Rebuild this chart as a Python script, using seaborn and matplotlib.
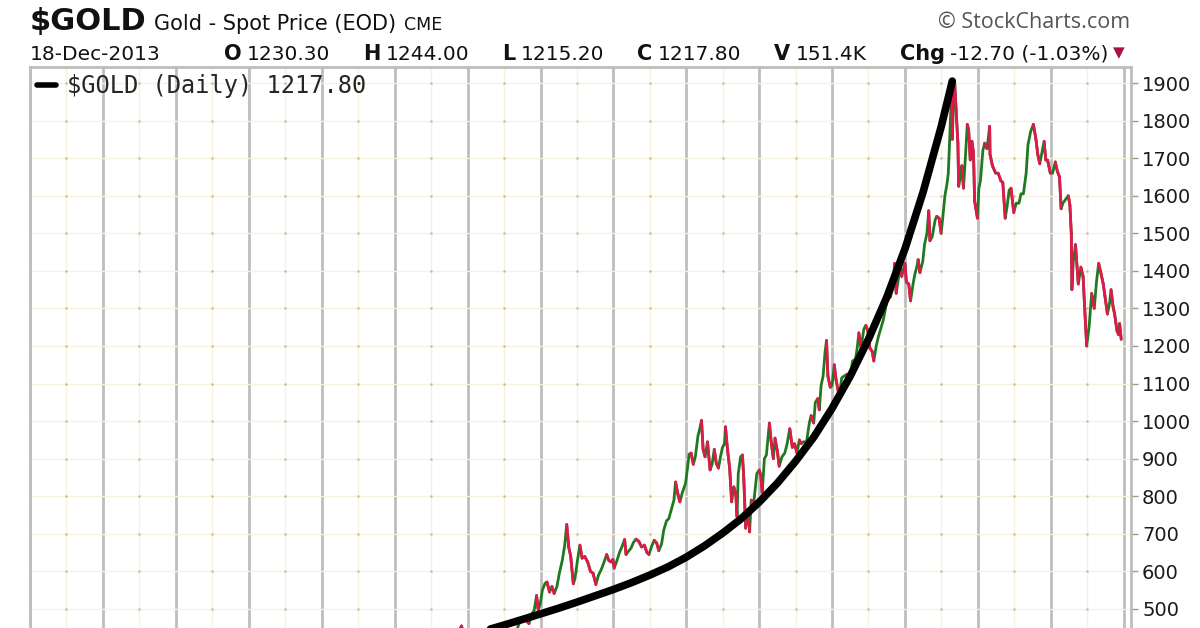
import matplotlib
matplotlib.use("Agg")
import matplotlib.pyplot as plt
import matplotlib.dates as mdates
from matplotlib.collections import LineCollection
from matplotlib.lines import Line2D
import numpy as np
import pandas as pd
import seaborn as sns

# gold spot, daily chart (a few points per month)
gold_dates = [
    "2004-09-01", "2004-09-15", "2004-10-01", "2004-10-15", "2004-11-01", "2004-11-15",
    "2004-12-01", "2004-12-10", "2004-12-20", "2004-12-31",
    "2005-01-10", "2005-01-25", "2005-02-08", "2005-02-22", "2005-03-10", "2005-03-25",
    "2005-04-08", "2005-04-20", "2005-05-05", "2005-05-20", "2005-06-06", "2005-06-24",
    "2005-07-08", "2005-07-22", "2005-08-08", "2005-08-22", "2005-09-06", "2005-09-20",
    "2005-10-05", "2005-10-20", "2005-11-04", "2005-11-18", "2005-11-30", "2005-12-12",
    "2005-12-20", "2005-12-30",
    "2006-01-10", "2006-01-23", "2006-02-02", "2006-02-15", "2006-02-27", "2006-03-10",
    "2006-03-24", "2006-04-05", "2006-04-20", "2006-05-02", "2006-05-12", "2006-05-22",
    "2006-06-01", "2006-06-14", "2006-06-22", "2006-07-05", "2006-07-17", "2006-07-28",
    "2006-08-10", "2006-08-25", "2006-09-08", "2006-09-21", "2006-10-05", "2006-10-18",
    "2006-11-01", "2006-11-15", "2006-11-28", "2006-12-08", "2006-12-20", "2006-12-29",
    "2007-01-05", "2007-01-18", "2007-01-31", "2007-02-12", "2007-02-26", "2007-03-05",
    "2007-03-16", "2007-03-30", "2007-04-12", "2007-04-24", "2007-05-08", "2007-05-22",
    "2007-06-05", "2007-06-18", "2007-06-28", "2007-07-10", "2007-07-24", "2007-08-06",
    "2007-08-16", "2007-08-30", "2007-09-10", "2007-09-24", "2007-10-05", "2007-10-18",
    "2007-10-31", "2007-11-08", "2007-11-20", "2007-11-30", "2007-12-12", "2007-12-28",
    "2008-01-08", "2008-01-15", "2008-01-25", "2008-02-05", "2008-02-15", "2008-02-28",
    "2008-03-06", "2008-03-17", "2008-03-25", "2008-04-04", "2008-04-16", "2008-04-29",
    "2008-05-09", "2008-05-20", "2008-05-30", "2008-06-10", "2008-06-20", "2008-06-30",
    "2008-07-10", "2008-07-15", "2008-07-25", "2008-08-05", "2008-08-15", "2008-08-26",
    "2008-09-05", "2008-09-11", "2008-09-17", "2008-09-29", "2008-10-08", "2008-10-15",
    "2008-10-24", "2008-11-05", "2008-11-13", "2008-11-21", "2008-12-02", "2008-12-10",
    "2008-12-19", "2008-12-31",
    "2009-01-08", "2009-01-15", "2009-01-26", "2009-02-05", "2009-02-20", "2009-03-02",
    "2009-03-12", "2009-03-20", "2009-04-01", "2009-04-10", "2009-04-24", "2009-05-08",
    "2009-05-20", "2009-06-02", "2009-06-15", "2009-06-26", "2009-07-08", "2009-07-20",
    "2009-07-30", "2009-08-10", "2009-08-25", "2009-09-08", "2009-09-17", "2009-09-30",
    "2009-10-08", "2009-10-20", "2009-10-28", "2009-11-06", "2009-11-16", "2009-11-26",
    "2009-12-03", "2009-12-10", "2009-12-22", "2009-12-31",
    "2010-01-11", "2010-01-20", "2010-02-05", "2010-02-17", "2010-03-01", "2010-03-16",
    "2010-03-30", "2010-04-12", "2010-04-27", "2010-05-06", "2010-05-14", "2010-05-25",
    "2010-06-08", "2010-06-18", "2010-06-28", "2010-07-08", "2010-07-20", "2010-07-28",
    "2010-08-09", "2010-08-20", "2010-08-31", "2010-09-14", "2010-09-28", "2010-10-06",
    "2010-10-19", "2010-11-01", "2010-11-09", "2010-11-17", "2010-11-30", "2010-12-07",
    "2010-12-15", "2010-12-31",
    "2011-01-07", "2011-01-19", "2011-01-28", "2011-02-08", "2011-02-18", "2011-02-28",
    "2011-03-07", "2011-03-16", "2011-03-30", "2011-04-08", "2011-04-20", "2011-04-29",
    "2011-05-05", "2011-05-16", "2011-05-31", "2011-06-08", "2011-06-20", "2011-06-30",
    "2011-07-08", "2011-07-19", "2011-07-29", "2011-08-05", "2011-08-12", "2011-08-22",
    "2011-08-25", "2011-09-02", "2011-09-06", "2011-09-13", "2011-09-22", "2011-09-26",
    "2011-10-04", "2011-10-12", "2011-10-20", "2011-10-31", "2011-11-08", "2011-11-15",
    "2011-11-23", "2011-12-01", "2011-12-09", "2011-12-15", "2011-12-29",
    "2012-01-05", "2012-01-13", "2012-01-25", "2012-02-03", "2012-02-15", "2012-02-28",
    "2012-03-01", "2012-03-13", "2012-03-29", "2012-04-11", "2012-04-24", "2012-05-04",
    "2012-05-16", "2012-05-25", "2012-06-05", "2012-06-14", "2012-06-28", "2012-07-10",
    "2012-07-24", "2012-08-03", "2012-08-15", "2012-08-29", "2012-09-07", "2012-09-20",
    "2012-10-04", "2012-10-17", "2012-10-26", "2012-11-05", "2012-11-16", "2012-11-27",
    "2012-12-05", "2012-12-14", "2012-12-28",
    "2013-01-08", "2013-01-22", "2013-02-01", "2013-02-12", "2013-02-20", "2013-03-01",
    "2013-03-14", "2013-03-28", "2013-04-05", "2013-04-12", "2013-04-15", "2013-04-22",
    "2013-05-03", "2013-05-17", "2013-05-30", "2013-06-10", "2013-06-20", "2013-06-28",
    "2013-07-10", "2013-07-23", "2013-08-05", "2013-08-16", "2013-08-27", "2013-09-09",
    "2013-09-19", "2013-09-27", "2013-10-10", "2013-10-21", "2013-10-28", "2013-11-07",
    "2013-11-15", "2013-11-27", "2013-12-05", "2013-12-10", "2013-12-18",
]
gold_close = [
    408, 405, 418, 420, 428, 440,
    455, 437, 442, 438,
    420, 425, 413, 435, 444, 427,
    425, 437, 429, 418, 426, 440,
    424, 425, 437, 439, 446, 470,
    473, 470, 461, 487, 496, 536,
    498, 513,
    550, 568, 572, 545, 560, 541,
    560, 595, 630, 670, 725, 665,
    640, 567, 580, 630, 670, 635,
    640, 625, 600, 595, 565, 590,
    605, 625, 645, 630, 625, 632,
    609, 628, 650, 665, 685, 645,
    653, 662, 678, 686, 680, 665,
    670, 650, 645, 665, 683, 675,
    655, 673, 710, 735, 740, 765,
    790, 838, 805, 785, 810, 834,
    880, 912, 915, 885, 905, 960,
    975, 1002, 925, 905, 945, 870,
    885, 925, 888, 875, 905, 930,
    940, 985, 925, 875, 785, 825,
    805, 745, 860, 905, 910, 845,
    715, 760, 705, 790, 775, 815,
    860, 870,
    855, 810, 900, 910, 995, 940,
    900, 955, 920, 880, 905, 915,
    940, 980, 930, 940, 915, 950,
    940, 945, 945, 995, 1015, 995,
    1050, 1060, 1030, 1095, 1120, 1185,
    1215, 1120, 1090, 1095,
    1150, 1110, 1065, 1115, 1120, 1125,
    1110, 1160, 1165, 1195, 1235, 1195,
    1245, 1255, 1240, 1195, 1185, 1160,
    1200, 1225, 1245, 1270, 1310, 1345,
    1330, 1355, 1420, 1340, 1385, 1420,
    1385, 1420,
    1370, 1365, 1320, 1360, 1390, 1410,
    1430, 1395, 1425, 1470, 1500, 1560,
    1480, 1490, 1535, 1545, 1540, 1500,
    1540, 1600, 1630, 1660, 1750, 1890,
    1750, 1880, 1900, 1830, 1740, 1625,
    1650, 1680, 1620, 1715, 1790, 1775,
    1695, 1745, 1715, 1585, 1540,
    1620, 1640, 1720, 1740, 1725, 1785,
    1710, 1680, 1660, 1660, 1640, 1635,
    1540, 1570, 1615, 1620, 1555, 1580,
    1580, 1605, 1605, 1660, 1735, 1770,
    1790, 1750, 1710, 1685, 1715, 1745,
    1695, 1695, 1660,
    1660, 1690, 1665, 1650, 1565, 1580,
    1590, 1600, 1575, 1500, 1350, 1425,
    1470, 1365, 1410, 1385, 1280, 1200,
    1250, 1340, 1300, 1370, 1420, 1390,
    1365, 1335, 1285, 1315, 1350, 1305,
    1285, 1240, 1230, 1260, 1217.8,
]

# hand drawn black curve, read quarter by quarter
trend_dates = [
    "2005-01-01", "2005-04-01", "2005-07-01", "2005-10-01",
    "2006-01-01", "2006-04-01", "2006-07-01", "2006-10-01",
    "2007-01-01", "2007-04-01", "2007-07-01", "2007-10-01",
    "2008-01-01", "2008-04-01", "2008-07-01", "2008-10-01",
    "2009-01-01", "2009-04-01", "2009-07-01", "2009-10-01",
    "2010-01-01", "2010-04-01", "2010-07-01", "2010-10-01",
    "2011-01-01", "2011-04-01", "2011-07-01", "2011-08-25",
]
trend_values = [
    430, 443, 457, 472,
    487, 502, 518, 535,
    552, 570, 590, 612,
    638, 668, 702, 740,
    785, 835, 893, 958,
    1035, 1120, 1218, 1330,
    1460, 1610, 1785, 1905,
]

price_ticks = [500, 600, 700, 800, 900, 1000, 1100, 1200, 1300,
               1400, 1500, 1600, 1700, 1800, 1900]

RED = "#e5164b"
GREEN = "#1f7a1f"
GRID = "#bdbdbd"
FAINT = "#f6f2dc"

sns.set_style("white")
plt.rcParams["font.family"] = ["DejaVu Sans"]

fig = plt.figure(figsize=(12, 6.28), dpi=100)
ax = fig.add_axes([30 / 1200, 0, 1101 / 1200, 561 / 628])

df = pd.DataFrame({"date": pd.to_datetime(gold_dates), "close": gold_close})
trend = pd.DataFrame({"date": pd.to_datetime(trend_dates), "value": trend_values})

# price line, green base then falling legs in red
sns.lineplot(data=df, x="date", y="close", color=GREEN, lw=2, ax=ax, zorder=3)
xs = mdates.date2num(df["date"])
ys = df["close"].to_numpy(dtype=float)
pts = np.column_stack([xs, ys])
segs = np.stack([pts[:-1], pts[1:]], axis=1)
down = ys[1:] < ys[:-1]
ax.add_collection(LineCollection(segs[down], colors=RED, linewidths=2,
                                 capstyle="round", zorder=3.1))

sns.lineplot(data=trend, x="date", y="value", color="black", lw=5.5, ax=ax,
             zorder=4, solid_capstyle="round", solid_joinstyle="round")

ax.set_xlim(pd.Timestamp("1999-01-01"), pd.Timestamp("2014-02-05"))
ax.set_ylim(449.4, 1942.6)
ax.set_xlabel("")
ax.set_ylabel("")

# grid: gray year lines, faint half-year / price lines with dots where they cross
ax.xaxis.set_major_locator(mdates.YearLocator())
ax.xaxis.set_minor_locator(mdates.MonthLocator(bymonth=7))
ax.set_axisbelow(True)
ax.grid(which="major", axis="x", color=GRID, lw=2)
ax.grid(which="minor", axis="x", color=FAINT, lw=1)
ax.grid(which="major", axis="y", color=FAINT, lw=1)
mid_years = mdates.date2num(pd.to_datetime([f"{y}-07-01" for y in range(1999, 2014)]))
gx, gy = np.meshgrid(mid_years, price_ticks)
ax.scatter(gx.ravel(), gy.ravel(), s=3, color="#b9b9ad", lw=0, zorder=1)

ax.yaxis.tick_right()
ax.set_yticks(price_ticks)
ax.tick_params(axis="x", which="both", bottom=False, labelbottom=False)
ax.tick_params(axis="y", which="major", right=True, length=5, width=1, color="#9a9a9a",
               labelsize=14, pad=3, labelcolor="#1a1a1a")
for side in ["left", "top", "right"]:
    ax.spines[side].set_color(GRID)
    ax.spines[side].set_linewidth(2)
ax.spines["bottom"].set_visible(False)

handle = Line2D([], [], color="black", lw=4)
ax.legend([handle], [r"\$GOLD (Daily) 1217.80"], loc="upper left", frameon=False,
          prop={"family": "DejaVu Sans Mono", "size": 17}, handlelength=0.8,
          handletextpad=0.45, borderaxespad=0.15, borderpad=0.15)

# header rows
renderer = fig.canvas.get_renderer()


def put_row(items, x0, y_px, x_end=None):
    texts = []
    for txt, size, weight, gap in items:
        t = fig.text(0, 1 - y_px / 628, txt, size=size, weight=weight,
                     va="baseline", ha="left", color="#111111")
        w = t.get_window_extent(renderer).width
        texts.append((t, w, gap))
    total = sum(w + g for _, w, g in texts) - texts[-1][2]
    extra = 0
    if x_end is not None:
        n_gaps = sum(1 for _, _, g in texts[:-1] if g > 8)
        extra = (x_end - x0 - total) / max(n_gaps, 1)
    x = x0
    for t, w, gap in texts:
        t.set_x(x / 1200)
        x += w + gap + (extra if gap > 8 else 0)


put_row([(r"\$GOLD", 22, "bold", 7),
         ("Gold - Spot Price (EOD)", 15, "normal", 8),
         ("CME", 12.5, "normal", 0)], 30, 30)

put_row([("18-Dec-2013", 14.5, "normal", 40),
         ("O", 15, "bold", 5), ("1230.30", 14.5, "normal", 10),
         ("H", 15, "bold", 5), ("1244.00", 14.5, "normal", 10),
         ("L", 15, "bold", 5), ("1215.20", 14.5, "normal", 10),
         ("C", 15, "bold", 5), ("1217.80", 14.5, "normal", 10),
         ("V", 15, "bold", 5), ("151.4K", 14.5, "normal", 10),
         ("Chg", 15, "bold", 5), ("-12.70 (-1.03%)", 14.5, "normal", 0)],
        30, 60, x_end=1108)

fig.text(1113 / 1200, 1 - 57 / 628, "\u25bc", size=11, color="#a8123c",
         ha="left", va="baseline")
fig.text(1130 / 1200, 1 - 28 / 628, "\u00a9 StockCharts.com", size=15.5,
         family=["Open Sans", "DejaVu Sans"], color="#555555",
         ha="right", va="baseline")

fig.savefig("out.png", dpi=100, facecolor="white")
